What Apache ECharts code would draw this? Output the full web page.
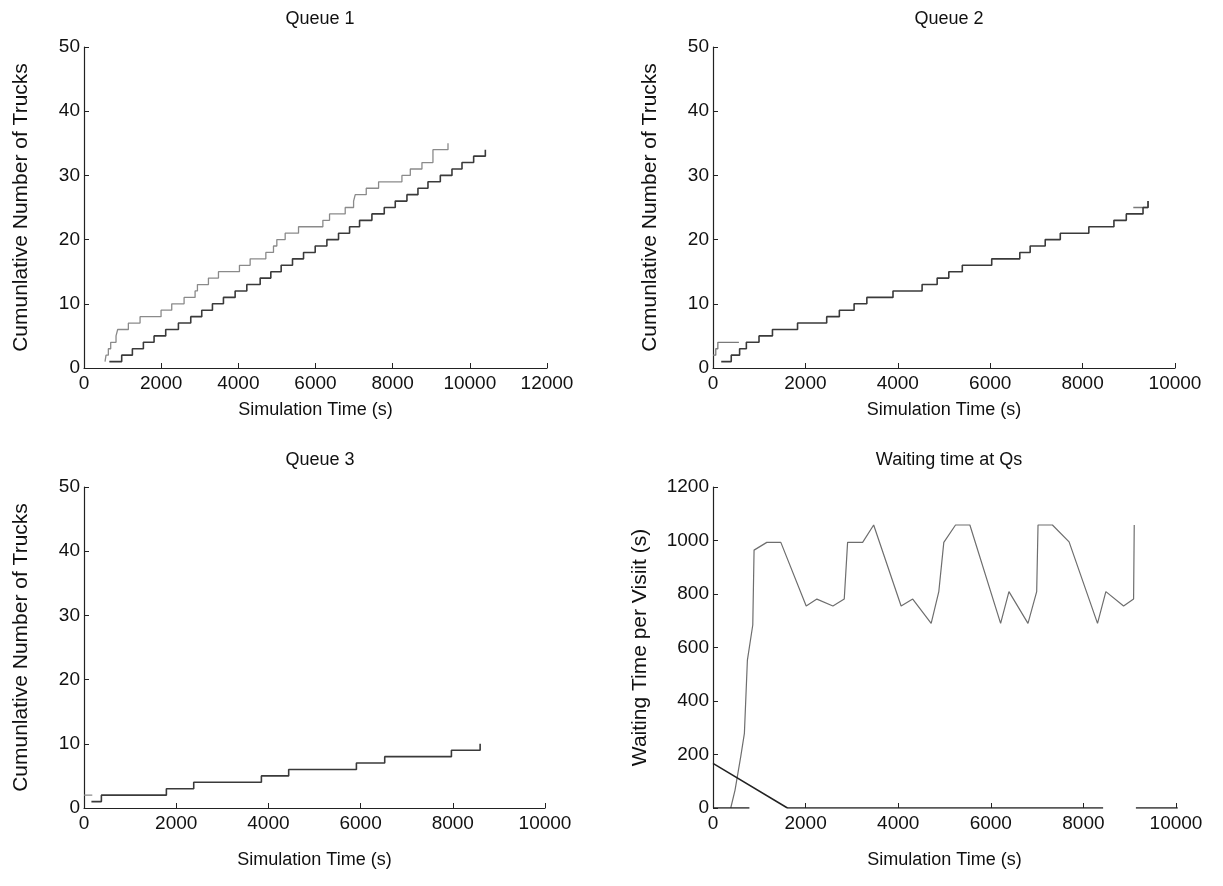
<!DOCTYPE html>
<html>
<head>
<meta charset="utf-8">
<title>Truck queues</title>
<script src="https://cdn.jsdelivr.net/npm/echarts@6/dist/echarts.min.js"></script>
<style>
  html, body { margin: 0; padding: 0; background: #fff; }
  #chart { width: 1223px; height: 886px; }
</style>
</head>
<body>
<div id="chart"></div>
<script>
// ---- Queue 1: cumulative trucks (arrivals and departures) ----
const q1aTimes = [545, 571, 631, 692, 830, 873, 1150, 1453, 1997, 2274, 2594, 2879, 2940, 3225, 3485, 4029, 4306, 4713, 4911, 4998, 5214, 5560, 6191, 6364, 6770, 6987, 7030, 7315, 7635, 8240, 8457, 8759, 9044, 9434];
const q1aCounts = [1, 2, 3, 4, 5, 6, 7, 8, 9, 10, 11, 12, 13, 14, 15, 16, 17, 18, 19, 20, 21, 22, 23, 24, 25, 26, 27, 28, 29, 30, 31, 32, 34, 35];
const q1bTimes = [657, 977, 1254, 1539, 1816, 2118, 2447, 2767, 3052, 3329, 3614, 3917, 4220, 4566, 4842, 5110, 5404, 5690, 5992, 6295, 6597, 6883, 7142, 7462, 7782, 8067, 8370, 8655, 8915, 9235, 9537, 9797, 10099, 10402];
const q1bCounts = [1, 2, 3, 4, 5, 6, 7, 8, 9, 10, 11, 12, 13, 14, 15, 16, 17, 18, 19, 20, 21, 22, 23, 24, 25, 26, 27, 28, 29, 30, 31, 32, 33, 34];

// ---- Queue 2 ----
const q2aTimes = [0, 60, 105, 561, null, 9097, 9328, 9415];
const q2aCounts = [2, 3, 4, 4, null, 25, 25, 26];
const q2bTimes = [178, 395, 576, 722, 996, 1287, 1830, 2461, 2735, 3054, 3330, 3896, 4526, 4852, 5104, 5396, 6033, 6641, 6865, 7191, 7517, 8135, 8678, 8946, 9308, 9417];
const q2bCounts = [1, 2, 3, 4, 5, 6, 7, 8, 9, 10, 11, 12, 13, 14, 15, 16, 17, 18, 19, 20, 21, 22, 23, 24, 25, 26];

// ---- Queue 3 ----
const q3aTimes = [0, 180];
const q3aCounts = [2, 2];
const q3bTimes = [161, 377, 1787, 2380, 3848, 4440, 5909, 6523, 7970, 8593];
const q3bCounts = [1, 2, 3, 4, 5, 6, 7, 8, 9, 10];

// ---- Waiting time at the queues ----
const waitATimes = [383, 476, 599, 678, 743, 859, 887, 1162, 1465, 2013, 2244, 2590, 2835, 2907, 3232, 3470, 4063, 4314, 4712, 4877, 4985, 5238, 5548, 6212, 6392, 6803, 6991, 7020, 7331, 7691, 8305, 8485, 8868, 9084, 9098];
const waitAValues = [0, 67, 192, 279, 553, 684, 964, 993, 993, 755, 781, 755, 781, 993, 993, 1058, 755, 781, 690, 809, 993, 1058, 1058, 690, 809, 690, 809, 1058, 1058, 995, 690, 809, 755, 781, 1058];
const waitBTimes = [0, 1608, 8426, null, 9134, 10037];
const waitBValues = [167, 0, 0, null, 0, 0];
const waitCTimes = [0, 786];
const waitCValues = [0, 0];

// ---- Axis ticks ----
const countTicks = { min: 0, max: 50, interval: 10 };
const timeTicksQ1 = { min: 0, max: 12000, interval: 2000 };
const timeTicks = { min: 0, max: 10000, interval: 2000 };
const waitTicks = { min: 0, max: 1200, interval: 200 };

const titles = ['Queue 1', 'Queue 2', 'Queue 3', 'Waiting time at Qs'];
const xLabel = 'Simulation Time (s)';
const countLabel = 'Cumunlative Number of Trucks';
const waitLabel = 'Waiting Time per Visiit (s)';

function pairs(xs, ys) {
  return xs.map((x, i) => (x === null ? '-' : [x, ys[i]]));
}

const FONT = '"Liberation Sans", Arial, Helvetica, sans-serif';
const INK = '#111';
const plain = v => String(v);

function xAxisDef(gridIndex, ticks, nameGap, showLine) {
  return {
    type: 'value', gridIndex, min: ticks.min, max: ticks.max, interval: ticks.interval,
    name: xLabel, nameLocation: 'middle', nameGap,
    nameTextStyle: { fontFamily: FONT, fontSize: 18, color: INK },
    axisLine: { show: showLine, lineStyle: { color: '#222', width: 1.2 } },
    axisTick: { show: true, inside: true, length: 5, lineStyle: { color: '#222', width: 1 } },
    axisLabel: { fontFamily: FONT, fontSize: 19, color: INK, margin: 6, formatter: plain },
    splitLine: { show: false }
  };
}

function yAxisDef(gridIndex, ticks, name, nameGap) {
  return {
    type: 'value', gridIndex, min: ticks.min, max: ticks.max, interval: ticks.interval,
    name, nameLocation: 'middle', nameGap, nameRotate: 90,
    nameTextStyle: { fontFamily: FONT, fontSize: 21, color: INK },
    axisLine: { show: true, lineStyle: { color: '#222', width: 1.2 } },
    axisTick: { show: true, inside: true, length: 5, lineStyle: { color: '#222', width: 1 } },
    axisLabel: { fontFamily: FONT, fontSize: 19, color: INK, margin: 4, formatter: plain },
    splitLine: { show: false }
  };
}

function stairs(idx, data, color, width) {
  return {
    type: 'line', xAxisIndex: idx, yAxisIndex: idx, data, step: 'end',
    showSymbol: false, symbol: 'none', connectNulls: false,
    lineStyle: { color, width }, itemStyle: { color }, silent: true
  };
}

function polyline(idx, data, color, width) {
  return {
    type: 'line', xAxisIndex: idx, yAxisIndex: idx, data,
    showSymbol: false, symbol: 'none', connectNulls: false,
    lineStyle: { color, width }, itemStyle: { color }, silent: true
  };
}

const chart = echarts.init(document.getElementById('chart'), null, { renderer: 'canvas' });

const titleStyle = { fontFamily: FONT, fontSize: 18, fontWeight: 'normal', color: INK };

chart.setOption({
  animation: false,
  backgroundColor: '#fff',
  title: [
    { text: titles[0], left: 315, top: 5, textAlign: 'center', textStyle: titleStyle },
    { text: titles[1], left: 944, top: 5, textAlign: 'center', textStyle: titleStyle },
    { text: titles[2], left: 315, top: 446, textAlign: 'center', textStyle: titleStyle },
    { text: titles[3], left: 944, top: 446, textAlign: 'center', textStyle: titleStyle }
  ],
  grid: [
    { left: 84, top: 47, width: 463, height: 321 },
    { left: 713, top: 47, width: 462, height: 321 },
    { left: 84, top: 487, width: 461, height: 321 },
    { left: 713, top: 487, width: 463, height: 321 }
  ],
  xAxis: [
    xAxisDef(0, timeTicksQ1, 33, true),
    xAxisDef(1, timeTicks, 33, true),
    xAxisDef(2, timeTicks, 43, true),
    xAxisDef(3, timeTicks, 43, false)
  ],
  yAxis: [
    yAxisDef(0, countTicks, countLabel, 52),
    yAxisDef(1, countTicks, countLabel, 52),
    yAxisDef(2, countTicks, countLabel, 52),
    yAxisDef(3, waitTicks, waitLabel, 62)
  ],
  series: [
    stairs(0, pairs(q1aTimes, q1aCounts), '#8a8a8a', 1.3),
    stairs(0, pairs(q1bTimes, q1bCounts), '#3a3a3a', 1.6),
    stairs(1, pairs(q2aTimes, q2aCounts), '#7a7a7a', 1.3),
    stairs(1, pairs(q2bTimes, q2bCounts), '#3a3a3a', 1.6),
    stairs(2, pairs(q3aTimes, q3aCounts), '#8a8a8a', 1.3),
    stairs(2, pairs(q3bTimes, q3bCounts), '#3a3a3a', 1.6),
    polyline(3, pairs(waitATimes, waitAValues), '#6e6e6e', 1.2),
    polyline(3, pairs(waitBTimes, waitBValues), '#222', 1.5),
    polyline(3, pairs(waitCTimes, waitCValues), '#222', 1.5)
  ]
});
</script>
</body>
</html>
